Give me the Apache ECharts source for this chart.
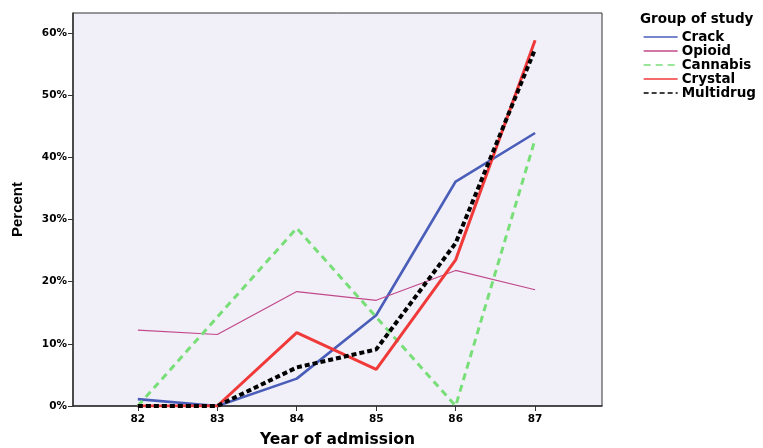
<!DOCTYPE html>
<html><head><meta charset="utf-8">
<script src="https://cdn.jsdelivr.net/npm/echarts@6/dist/echarts.min.js"></script>
<style>html,body{margin:0;padding:0;background:#fff}#c{width:763px;height:448px}</style>
</head><body><div id="c"></div>
<script>
const years = [82, 83, 84, 85, 86, 87];
const crack = [1.1, 0, 4.4, 14.6, 36.1, 43.9];
const opioid = [12.2, 11.5, 18.4, 17.0, 21.8, 18.7];
const cannabis = [0, 14.3, 28.6, 14.3, 0, 42.9];
const crystal = [0, 0, 11.8, 5.9, 23.5, 58.8];
const multidrug = [0, 0, 6.2, 9.1, 26.2, 57.4];
const yTicks = [0, 10, 20, 30, 40, 50, 60];

const F = 'DejaVu Sans';
const pts = arr => years.map((y, i) => [y, arr[i]]);
const chart = echarts.init(document.getElementById('c'));
const mk = (name, data, color, width, type) => ({
  name, type: 'line', data: pts(data), showSymbol: false, symbol: 'none',
  lineStyle: { color, width, type }, itemStyle: { color }, z: 3
});
chart.setOption({
  animation: false,
  title: { text: 'Group of study', left: 640, top: 12, padding: 0, textStyle: { fontFamily: F, fontWeight: 'bold', fontSize: 13.5, color: '#000' } },
  legend: {
    orient: 'vertical', left: 643, top: 30, padding: 0, itemGap: 0, itemWidth: 34, itemHeight: 14,
    textStyle: { fontFamily: F, fontWeight: 'bold', fontSize: 13.5, color: '#000', padding: [0, 0, 0, -1] },
    lineStyle: { width: 1.3 },
    itemStyle: { opacity: 0 },
    data: ['Crack', 'Opioid', 'Cannabis', 'Crystal', 'Multidrug']
  },
  grid: { left: 73, right: 161, top: 13, bottom: 42, outerBoundsMode: 'none', show: true, backgroundColor: '#F1F0F8', borderColor: '#333', borderWidth: 1 },
  xAxis: {
    type: 'value', min: 81.184, max: 87.842,
    name: 'Year of admission', nameLocation: 'middle', nameGap: 26,
    nameTextStyle: { fontFamily: F, fontWeight: 'bold', fontSize: 15.5, color: '#000' },
    axisLine: { lineStyle: { color: '#333', width: 1.5 } },
    axisTick: { show: true, length: 5, lineStyle: { color: '#333' }, customValues: years },
    axisLabel: { fontFamily: F, fontWeight: 'bold', fontSize: 10.5, color: '#000', margin: 8, customValues: years },
    splitLine: { show: false }
  },
  yAxis: {
    type: 'value', min: 0, max: 63.2,
    name: 'Percent', nameLocation: 'middle', nameGap: 48, nameRotate: 90,
    nameTextStyle: { fontFamily: 'Liberation Sans', fontWeight: 'bold', fontSize: 15, color: '#000' },
    axisLine: { show: true, lineStyle: { color: '#333', width: 1.5 } },
    axisTick: { show: true, length: 5, lineStyle: { color: '#333' }, customValues: yTicks },
    axisLabel: { fontFamily: F, fontWeight: 'bold', fontSize: 10.5, color: '#000', margin: 6, customValues: yTicks, formatter: '{value}%' },
    splitLine: { show: false }
  },
  series: [
    mk('Crack', crack, '#4A5DB9', 2.6, 'solid'),
    mk('Opioid', opioid, '#C2488C', 1.2, 'solid'),
    mk('Cannabis', cannabis, '#78DE78', 3, [7, 5]),
    mk('Crystal', crystal, '#F03A3A', 3, 'solid'),
    mk('Multidrug', multidrug, '#000000', 4, [5, 3])
  ]
});
</script></body></html>
